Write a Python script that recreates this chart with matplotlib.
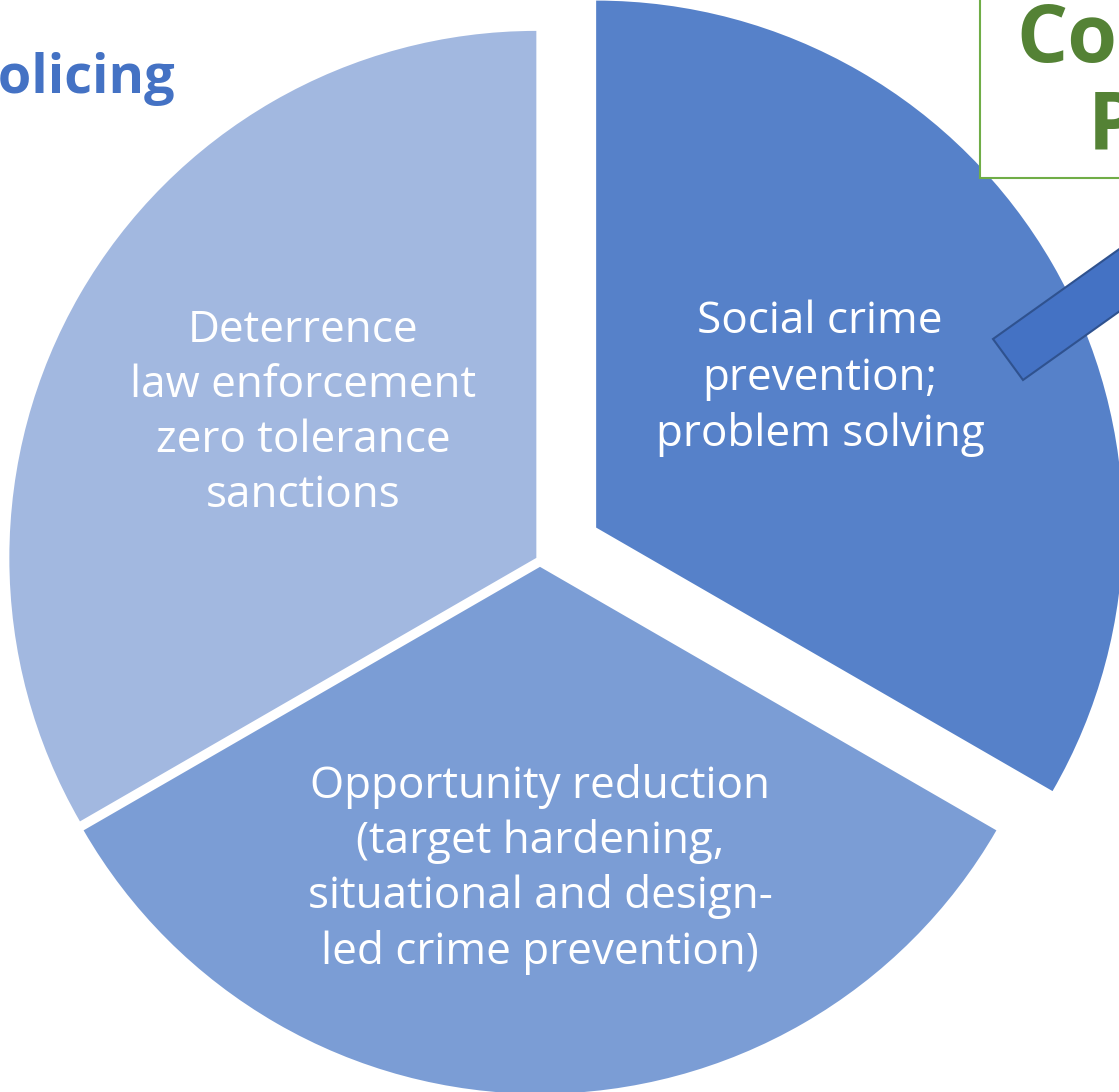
import matplotlib
matplotlib.use("Agg")
import matplotlib.pyplot as plt
from matplotlib.patches import Polygon, Rectangle

# ---- data ----
categories = ["Deterrence", "Opportunity reduction", "Social crime prevention"]
values = [1, 1, 1]
explode = [0.008, 0.013, 0.123]
colors = ["#A2B8E0", "#7B9DD5", "#5681C9"]
label_lines = [
    ["Deterrence", "law enforcement", "zero tolerance", "sanctions"],
    ["Opportunity reduction", "(target hardening,", "situational and design-", "led crime prevention)"],
    ["Social crime", "prevention;", "problem solving"],
]

W, H = 1119, 1092
R = 527.0
CX, CY = 540.0, 560.0  # pie center in pixels

fig = plt.figure(figsize=(W / 100, H / 100), dpi=100)
ax = fig.add_axes([0, 0, 1, 1])
ax.pie(values, explode=explode, colors=colors, startangle=90, counterclock=True,
       radius=1.0, center=(0, 0), wedgeprops=dict(linewidth=0))
ax.set_xlim(-CX / R, (W - CX) / R)
ax.set_ylim(-(H - CY) / R, CY / R)
ax.set_aspect("equal")
ax.axis("off")

font = "Open Sans"

def fx(px):
    return px / W

def fy(py):
    return 1 - py / H

# label positions (pixel centers x, baselines y)
label_pos = [
    (303, [342, 397, 452, 507]),
    (540, [798, 853, 908, 964]),
    (820, [333, 390, 446]),
]
for lines, (x, ys) in zip(label_lines, label_pos):
    for line, y in zip(lines, ys):
        fig.text(fx(x), fy(y), line, ha="center", va="baseline", color="white",
                 fontsize=31.7, family=font)

# left title (cut off at the left edge, as in the reference)
fig.text(fx(175), fy(93), "Policing", ha="right", va="baseline", color="#4472C4",
         fontsize=39, fontweight="bold", family=font)

# green box top right (cut off at the edges, as in the reference)
box = Rectangle((fx(980), fy(178)), 1.0, 1.0, transform=fig.transFigure,
                facecolor="white", edgecolor="#70AD47", linewidth=1.5, zorder=5)
fig.add_artist(box)
fig.text(fx(1016), fy(62), "Community", ha="left", va="baseline", color="#548235",
         fontsize=58, fontweight="bold", family=font, zorder=6)
fig.text(fx(1088), fy(150), "Policing", ha="left", va="baseline", color="#548235",
         fontsize=58, fontweight="bold", family=font, zorder=6)

# arrow shaft
p1 = (993, 339)
p2 = (1023, 380)
dx, dy = 125, -89
L = 3.0
pts = [p1, p2, (p2[0] + dx * L, p2[1] + dy * L), (p1[0] + dx * L, p1[1] + dy * L)]
poly = Polygon([(fx(a), fy(b)) for a, b in pts], closed=True, transform=fig.transFigure,
               facecolor="#4472C4", edgecolor="#2F528F", linewidth=1.5, zorder=7)
fig.add_artist(poly)

fig.savefig("out.png", dpi=100, facecolor="white")
